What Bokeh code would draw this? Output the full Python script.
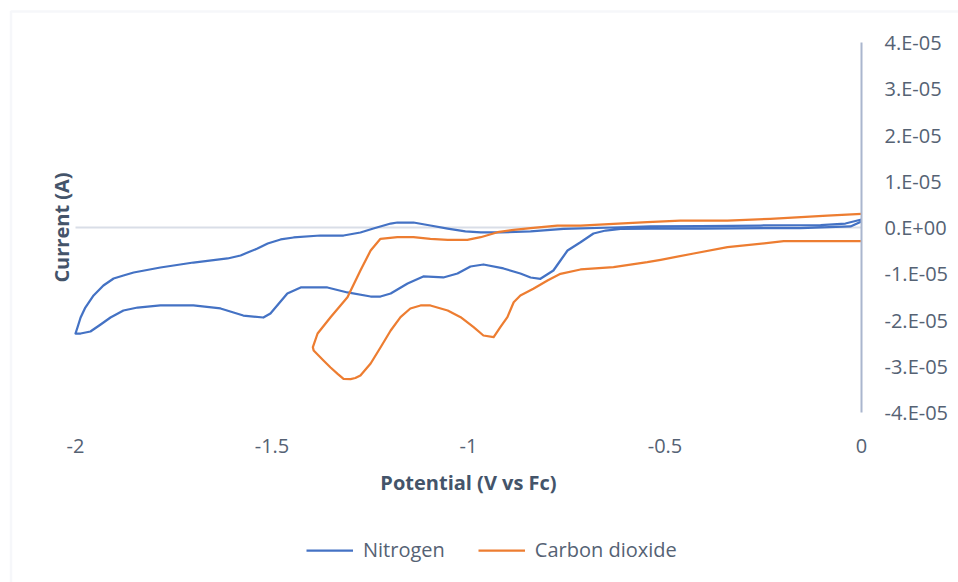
import numpy as np
from bokeh.plotting import figure
from bokeh.models import (Range1d, FixedTicker, Label, Legend, LegendItem, LinearAxis,
                          BoxAnnotation)
from bokeh.embed import file_html
from bokeh.resources import INLINE

# Cyclic voltammograms: potential (V vs Fc) and current (microamps)
n2_potential = [0.0, -0.028, -0.155, -0.410, -0.537, -0.613, -0.651, -0.682, -0.715,
                -0.748, -0.766, -0.784, -0.817, -0.842, -0.868, -0.911, -0.962, -0.995,
                -1.028, -1.064, -1.115, -1.155, -1.198, -1.224, -1.249, -1.308, -1.359,
                -1.427, -1.461, -1.504, -1.522, -1.573, -1.631, -1.700, -1.784, -1.842,
                -1.878, -1.911, -1.936, -1.962, -1.987, -2.0,
                -1.995, -1.987, -1.975, -1.954, -1.929, -1.903, -1.878, -1.852, -1.784,
                -1.700, -1.613, -1.580, -1.562, -1.537, -1.511, -1.478, -1.445, -1.377,
                -1.318, -1.275, -1.242, -1.198, -1.181, -1.140, -1.097, -1.053, -1.008,
                -0.969, -0.919, -0.842, -0.758, -0.631, -0.537, -0.410, -0.257, -0.104,
                -0.041, 0.0]
n2_current_uA = [1.30, 0.22, -0.11, -0.22, -0.22, -0.32, -0.65, -1.30, -3.18,
                 -4.97, -7.14, -9.30, -11.09, -10.81, -9.95, -8.86, -8.00, -8.43,
                 -9.95, -10.81, -10.59, -12.11, -14.27, -14.92, -14.92, -14.05, -12.97,
                 -12.97, -14.27, -18.59, -19.46, -19.03, -17.51, -16.86, -16.86, -17.30,
                 -17.95, -19.46, -20.97, -22.49, -22.92, -22.92,
                 -21.62, -19.46, -17.30, -14.70, -12.54, -11.03, -10.38, -9.73, -8.65,
                 -7.57, -6.70, -6.05, -5.41, -4.54, -3.46, -2.59, -2.16, -1.73,
                 -1.73, -1.08, -0.22, 0.86, 1.08, 1.08, 0.43, -0.22, -0.86,
                 -1.08, -1.08, -0.86, -0.32, 0.0, 0.22, 0.32, 0.43, 0.54,
                 0.86, 1.73]

co2_potential = [0.0, -0.198, -0.341, -0.427, -0.511, -0.545, -0.631, -0.715, -0.766,
                 -0.799, -0.835, -0.868, -0.885, -0.901, -0.919, -0.936, -0.962, -0.987,
                 -1.020, -1.053, -1.097, -1.122, -1.148, -1.173, -1.198, -1.224, -1.249,
                 -1.275, -1.288, -1.300, -1.318, -1.333, -1.351, -1.369, -1.394,
                 -1.396, -1.384, -1.351, -1.308, -1.275, -1.249, -1.224, -1.181, -1.140,
                 -1.097, -1.053, -1.003, -0.969, -0.926, -0.885, -0.842, -0.774, -0.715,
                 -0.631, -0.545, -0.461, -0.341, -0.232, -0.087, 0.0]
co2_current_uA = [-2.96, -2.96, -4.26, -5.62, -6.98, -7.50, -8.58, -9.08, -10.01,
                  -11.46, -13.25, -14.70, -16.15, -19.39, -21.56, -23.72, -23.35, -21.56,
                  -19.39, -17.95, -16.86, -16.86, -17.51, -19.39, -22.27, -25.95, -29.41,
                  -32.00, -32.54, -32.80, -32.71, -31.63, -30.27, -28.76, -26.59,
                  -25.88, -22.92, -19.39, -15.07, -9.30, -4.97, -2.44, -2.10, -2.10,
                  -2.44, -2.66, -2.66, -2.10, -1.02, -0.50, -0.15, 0.43, 0.43,
                  0.80, 1.15, 1.51, 1.51, 1.88, 2.59, 2.96]

series_names = ["Nitrogen", "Carbon dioxide"]
series_colors = ["#4472C4", "#ED7D31"]

x_ticks = [-2, -1.5, -1, -0.5, 0]
x_tick_labels = ["-2", "-1.5", "-1", "-0.5", "0"]
y_ticks = [-4e-05, -3e-05, -2e-05, -1e-05, 0.0, 1e-05, 2e-05, 3e-05, 4e-05]
y_tick_labels = ["-4.E-05", "-3.E-05", "-2.E-05", "-1.E-05", "0.E+00",
                 "1.E-05", "2.E-05", "3.E-05", "4.E-05"]
x_bounds = (-2, 0)
y_bounds = (-4e-05, 4e-05)

FONT = "Open Sans"
TICK_COLOR = "#556274"
TITLE_COLOR = "#44546A"
FRAME_COLOR = "#e0e4ed"

# The drawing area spans the whole canvas; the value window (x_bounds, y_bounds)
# occupies the pixel box below, and axes are pinned to data positions.
W, H = 958, 582
BOX_L, BOX_R, BOX_T, BOX_B = 75, 861, 42, 412
kx = (x_bounds[1] - x_bounds[0]) / (BOX_R - BOX_L)
ky = (y_bounds[1] - y_bounds[0]) / (BOX_B - BOX_T)
x_range = Range1d(x_bounds[0] - BOX_L * kx, x_bounds[1] + (W - BOX_R) * kx)
y_range = Range1d(y_bounds[0] - (H - BOX_B) * ky, y_bounds[1] + BOX_T * ky)

p = figure(width=W, height=H, output_backend="svg", toolbar_location=None,
           x_range=x_range, y_range=y_range,
           x_axis_location=None, y_axis_location=None, min_border=0,
           outline_line_color=None, background_fill_color="white",
           border_fill_color="white")
p.grid.visible = False

# zero-current line (horizontal axis crossing)
zero_axis = LinearAxis(fixed_location=0, bounds=x_bounds, ticker=FixedTicker(ticks=[]),
                       axis_line_color="#d9dee7", axis_line_width=2,
                       major_tick_line_color=None, minor_tick_line_color=None,
                       major_label_text_font_size="0px", level="underlay")
p.add_layout(zero_axis, "below")

# potential axis: labels and title at the foot of the value window
xa = LinearAxis(fixed_location=y_bounds[0], bounds=x_bounds,
                ticker=FixedTicker(ticks=x_ticks),
                major_label_overrides=dict(zip(x_ticks, x_tick_labels)),
                axis_line_color=None, major_tick_line_color=None,
                minor_tick_line_color=None, major_label_standoff=20,
                major_label_text_font=FONT, major_label_text_font_size="20px",
                major_label_text_color=TICK_COLOR,
                axis_label="Potential (V vs Fc)", axis_label_text_font=FONT,
                axis_label_text_font_style="bold", axis_label_text_font_size="20px",
                axis_label_text_color=TITLE_COLOR, axis_label_standoff=13)
p.add_layout(xa, "below")

# current axis crossing at 0 V, labels to its right
ya = LinearAxis(fixed_location=0, bounds=y_bounds, ticker=FixedTicker(ticks=y_ticks),
                major_label_overrides=dict(zip(y_ticks, y_tick_labels)),
                axis_line_color="#aab6ce", axis_line_width=2,
                major_tick_line_color=None, minor_tick_line_color=None,
                major_label_standoff=17, major_label_text_font=FONT,
                major_label_text_font_size="20px", major_label_text_color=TICK_COLOR)
p.add_layout(ya, "right")

r_n2 = p.line(n2_potential, np.array(n2_current_uA) * 1e-6,
              line_color=series_colors[0], line_width=2.25, line_join="round")
r_co2 = p.line(co2_potential, np.array(co2_current_uA) * 1e-6,
               line_color=series_colors[1], line_width=2.25, line_join="round")

# vertical axis title
p.add_layout(Label(x=61, y=H - 227, x_units="screen", y_units="screen",
                   text="Current (A)", angle=np.pi / 2, text_align="center",
                   text_baseline="middle", text_font=FONT, text_font_style="bold",
                   text_font_size="20px", text_color=TITLE_COLOR))

legend = Legend(items=[LegendItem(label=series_names[0], renderers=[r_n2]),
                       LegendItem(label=series_names[1], renderers=[r_co2])],
                orientation="horizontal", location=(306, 19),
                glyph_width=47, glyph_height=20, label_standoff=10, spacing=33,
                padding=0, margin=0, border_line_color=None,
                background_fill_alpha=0, label_text_font=FONT,
                label_text_font_size="20px", label_text_color=TICK_COLOR)
p.add_layout(legend)

# chart area frame
p.add_layout(BoxAnnotation(left=10.5, right=W + 50, top=H - 11, bottom=-50,
                           left_units="screen", right_units="screen",
                           top_units="screen", bottom_units="screen",
                           fill_alpha=0, line_color=FRAME_COLOR, line_width=2.5))

open("out.html", "w").write(file_html(p, INLINE))
